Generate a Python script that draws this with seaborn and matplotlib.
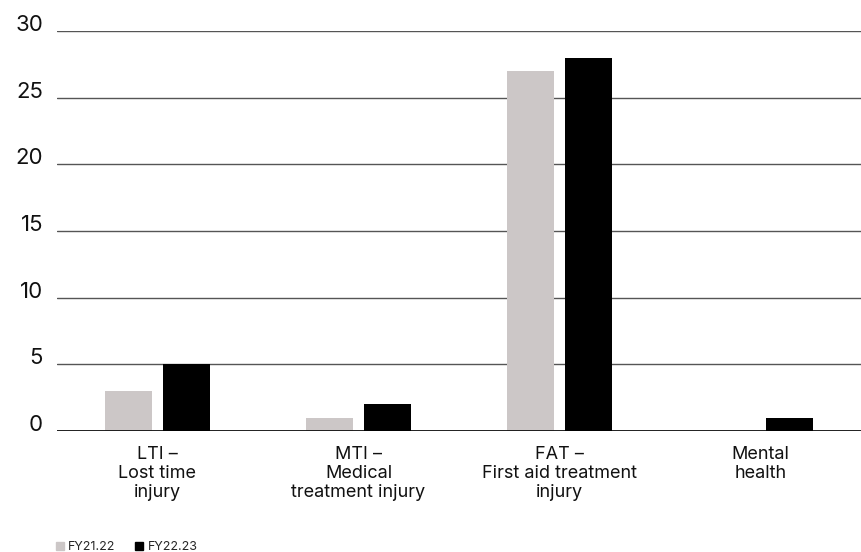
import pandas as pd
import seaborn as sns
import matplotlib.pyplot as plt
from matplotlib.lines import Line2D

# Data
categories = ['LTI –\nLost time\ninjury',
              'MTI –\nMedical\ntreatment injury',
              'FAT –\nFirst aid treatment\ninjury',
              'Mental\nhealth']
fy2122 = [3, 1, 27, 0]
fy2223 = [5, 2, 28, 1]
series = ['FY21.22', 'FY22.23']
colors = ['#ccc7c7', '#000000']

df = pd.DataFrame({
    'category': categories * 2,
    'value': fy2122 + fy2223,
    'year': [series[0]] * len(categories) + [series[1]] * len(categories),
})

sns.set_theme(style='white')
plt.rcParams['font.family'] = ['Inter', 'DejaVu Sans']

fig = plt.figure(figsize=(8.61, 5.52), dpi=100)
ax = fig.add_axes([57 / 861, 1 - 431 / 552, 1 - 57 / 861, 400 / 552])

sns.barplot(data=df, x='category', y='value', hue='year', palette=colors,
            width=0.58, gap=0.2, saturation=1, linewidth=0, legend=False, ax=ax)

ax.set_ylim(0, 30)
ax.set_xlim(-0.5, 3.5)
ax.set_yticks(range(0, 31, 5))
ax.set_axisbelow(True)
ax.yaxis.grid(True, color='#555555', linewidth=1)
ax.axhline(0, color='black', linewidth=1.2)
sns.despine(ax=ax, left=True, bottom=True)
ax.set_xlabel('')
ax.set_ylabel('')
ax.tick_params(axis='y', length=0, pad=10, labelsize=16, labelcolor='#111111')
ax.tick_params(axis='x', length=0, pad=11, labelsize=13, labelcolor='#111111')
for lab in ax.get_yticklabels():
    lab.set_verticalalignment('baseline')
for lab in ax.get_xticklabels():
    lab.set_linespacing(1.15)

handles = [Line2D([], [], marker='s', linestyle='', markersize=6,
                  markerfacecolor=c, markeredgecolor=c) for c in colors]
fig.legend(handles, series, loc='lower left', bbox_to_anchor=(42 / 861, -0.022),
           ncol=2, frameon=False, fontsize=9, handletextpad=0.2,
           columnspacing=1.4, handlelength=1.0)

plt.savefig('out.png', dpi=100)
